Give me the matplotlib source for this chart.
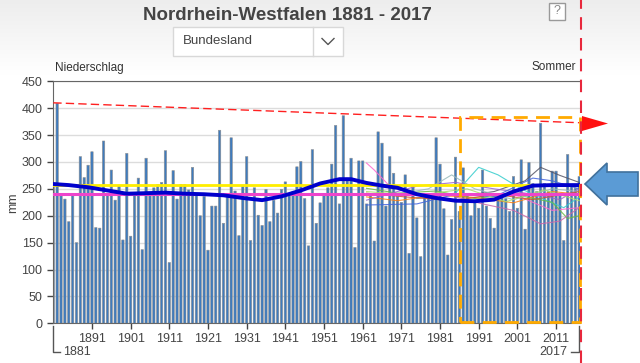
import matplotlib
matplotlib.use("Agg")
from matplotlib import pyplot as plt
from matplotlib.patches import Polygon, Rectangle
from matplotlib.lines import Line2D
import numpy as np

plt.rcParams['font.family'] = ['Liberation Sans', 'DejaVu Sans']

# Sommer-Niederschlag NRW (mm), 1881-2017
years = list(range(1881, 2018))
niederschlag = [
    255, 409, 237, 231, 189, 240, 150, 310, 271, 294,   # 1881-1890
    319, 178, 177, 339, 240, 285, 229, 257, 155, 316,   # 1891-1900
    162, 239, 270, 137, 307, 240, 252, 258, 262, 321,   # 1901-1910
    113, 284, 231, 258, 258, 248, 290, 239, 200, 236,   # 1911-1920
    136, 218, 218, 359, 186, 236, 345, 246, 163, 257,   # 1921-1930
    310, 154, 252, 201, 182, 249, 189, 229, 205, 249,   # 1931-1940
    263, 239, 245, 291, 301, 232, 144, 323, 186, 224,   # 1941-1950
    239, 252, 296, 368, 222, 386, 270, 307, 141, 302,   # 1951-1960
    302, 222, 240, 153, 356, 335, 218, 310, 279, 236,   # 1961-1970
    225, 276, 130, 256, 196, 124, 239, 239, 239, 345,   # 1971-1980
    296, 213, 127, 193, 309, 208, 289, 239, 200, 225,   # 1981-1990
    214, 285, 218, 195, 177, 239, 236, 232, 208, 273,   # 1991-2000
    214, 304, 175, 299, 260, 245, 372, 260, 245, 283,   # 2001-2010
    283, 239, 154, 314, 257, 251, 273,                  # 2011-2017
]

# gleitendes Mittel
mittel_jahre = [1881, 1885, 1890, 1895, 1900, 1905, 1910, 1915, 1920, 1925,
                1930, 1935, 1940, 1945, 1950, 1955, 1958, 1962, 1966, 1970,
                1975, 1980, 1985, 1990, 1995, 2000, 2005, 2010, 2017]
mittel_werte = [259, 257, 253, 247, 241, 242, 243, 241, 240, 238,
                233, 229, 236, 247, 260, 268, 268, 261, 256, 252,
                240, 233, 228, 227, 230, 245, 256, 257, 257]

trend_jahre = [1881, 2017]
trend_werte = [410, 373]
mittelwert_gelb = 257
mittelwert_pink = 241

# duenne Kurven (Szenarien)
kurven = [
    ('#ff66cc', [1962, 1964, 1968, 1972, 1980, 1990, 2000, 2010, 2017], [298, 285, 255, 245, 235, 225, 240, 210, 215]),
    ('#33cccc', [1975, 1985, 1991, 1996, 2002, 2008, 2013, 2017], [232, 242, 290, 276, 250, 230, 215, 235]),
    ('#555566', [1985, 1995, 2003, 2007, 2012, 2017], [235, 245, 265, 290, 275, 262]),
    ('#66bb44', [1962, 1970, 1980, 1990, 2000, 2010, 2014, 2017], [251, 242, 246, 232, 240, 225, 195, 200]),
    ('#ff7f0e', [1962, 1970, 1980, 1990, 2000, 2010, 2017], [235, 228, 238, 234, 224, 245, 240]),
    ('#9966cc', [1962, 1975, 1985, 1995, 2005, 2012, 2017], [229, 255, 262, 250, 240, 230, 250]),
    ('#99bbbb', [1970, 1978, 1984, 1990, 2000, 2010, 2017], [240, 250, 276, 250, 230, 250, 245]),
    ('#4466dd', [1962, 1975, 1985, 1995, 2005, 2010, 2017], [220, 222, 240, 235, 270, 265, 250]),
    ('#cc5533', [1962, 1972, 1985, 1995, 2005, 2017], [242, 235, 228, 240, 230, 245]),
    ('#cc66aa', [1985, 1992, 2000, 2007, 2012, 2017], [235, 222, 210, 185, 190, 215]),
    ('#aadd66', [1962, 1975, 1988, 1998, 2008, 2017], [245, 238, 250, 226, 248, 228]),
]

fig = plt.figure(figsize=(6.4, 3.63), dpi=100)
fig.patch.set_facecolor('white')

# leichter grauer Verlauf oben
bg = fig.add_axes([0, 0, 1, 1], zorder=-5)
grad = np.linspace(0.93, 1.0, 100).reshape(-1, 1)
bg.imshow(np.dstack([grad, grad, grad]), extent=[0, 1, 1 - 75 / 363, 1], aspect='auto')
bg.set_xlim(0, 1)
bg.set_ylim(0, 1)
bg.axis('off')

ax = fig.add_axes([52.9 / 640, 1 - 323.3 / 363, 527.5 / 640, 242 / 363])
ax.bar(years, niederschlag, width=0.62, color='#3f7bbd', edgecolor='#8f8f8f', linewidth=0.4,
       snap=False, zorder=2)

ax.plot(trend_jahre, trend_werte, color='#ff2020', lw=1, dashes=(6, 3), zorder=4)
ax.axhline(mittelwert_gelb, color='#ffee00', lw=2, zorder=4)
ax.axhline(mittelwert_pink, color='#ee44cc', lw=2.2, zorder=4)
for farbe, kx, ky in kurven:
    ax.plot(kx, ky, color=farbe, lw=0.8, alpha=0.85, zorder=3)
ax.plot(mittel_jahre, mittel_werte, color='#0000cc', lw=2.8, zorder=5, solid_capstyle='round')

# orange gestrichelter Rahmen
ax.add_patch(Rectangle((1986.2, 3), 2017.2 - 1986.2, 381, fill=False, edgecolor='#ffaa00',
                       lw=2, linestyle=(0, (5, 3)), zorder=6, clip_on=False))

ax.set_xlim(1880.9, 2017.3)
ax.set_ylim(0, 450)
ax.set_yticks(range(0, 451, 50))
ax.set_xticks(range(1891, 2012, 10))
ax.tick_params(axis='both', labelsize=9, colors='#444444', length=4, width=1)
ax.tick_params(axis='x', pad=3)
ax.grid(axis='y', color='#dcdcdc', lw=1, zorder=0)
ax.set_axisbelow(True)
for s in ['left', 'bottom', 'top']:
    ax.spines[s].set_color('#666666')
ax.spines['right'].set_visible(False)
ax.set_ylabel('mm', fontsize=9, color='#444444', labelpad=2)

# Klammern 1881 / 2017
fig.add_artist(Line2D([53.3 / 640, 53.3 / 640, 60 / 640], [1 - 326 / 363, 1 - 352 / 363, 1 - 352 / 363],
                      color='#555555', lw=1))
fig.text(63 / 640, 1 - 352 / 363, '1881', fontsize=9, color='#444444', va='center', ha='left')
fig.add_artist(Line2D([571 / 640, 578.5 / 640, 578.5 / 640], [1 - 352 / 363, 1 - 352 / 363, 1 - 326 / 363],
                      color='#555555', lw=1))
fig.text(567 / 640, 1 - 352 / 363, '2017', fontsize=9, color='#444444', va='center', ha='right')

# Titel und Bedienelemente
fig.text(287 / 640, 1 - 15 / 363, 'Nordrhein-Westfalen 1881 - 2017', fontsize=13.5, fontweight='bold',
         color='#444444', ha='center', va='center')
fig.add_artist(Rectangle((173 / 640, 1 - 56 / 363), 170 / 640, 29 / 363, transform=fig.transFigure,
                         facecolor='white', edgecolor='#d8d8d8', lw=1))
fig.add_artist(Line2D([313 / 640, 313 / 640], [1 - 56 / 363, 1 - 27 / 363], color='#d8d8d8', lw=1))
fig.text(183 / 640, 1 - 41.5 / 363, 'Bundesland', fontsize=9.5, color='#444444', va='center', ha='left')
fig.add_artist(Line2D([322 / 640, 328 / 640, 334 / 640], [1 - 38.5 / 363, 1 - 44.5 / 363, 1 - 38.5 / 363],
                      color='#555555', lw=1))
fig.add_artist(Rectangle((549 / 640, 1 - 20 / 363), 16 / 640, 17 / 363, transform=fig.transFigure,
                         facecolor='white', edgecolor='#999999', lw=1))
fig.text(557 / 640, 1 - 11.5 / 363, '?', fontsize=9, color='#888888', va='center', ha='center')
fig.text(55 / 640, 1 - 67.5 / 363, 'Niederschlag', fontsize=8.5, color='#333333', va='center', ha='left')
fig.text(576 / 640, 1 - 67.5 / 363, 'Sommer', fontsize=8.5, color='#333333', va='center', ha='right')

# rote gestrichelte Senkrechte und Pfeile
fig.add_artist(Line2D([580.5 / 640, 580.5 / 640], [0, 1], color='#e8283c', lw=1.5, dashes=(6, 4)))
fig.add_artist(Polygon([(582 / 640, 1 - 116 / 363), (582 / 640, 1 - 131 / 363), (608 / 640, 1 - 123.5 / 363)],
                       closed=True, facecolor='#ff1010', edgecolor='none', transform=fig.transFigure))
pfeil = [(585, 184), (607, 163), (607, 172), (638, 172), (638, 196), (607, 196), (607, 205)]
fig.add_artist(Polygon([(px / 640, 1 - py / 363) for px, py in pfeil], closed=True,
                       facecolor='#5b9bd5', edgecolor='#41719c', lw=1.2, transform=fig.transFigure))

fig.savefig('out.png', dpi=100)
